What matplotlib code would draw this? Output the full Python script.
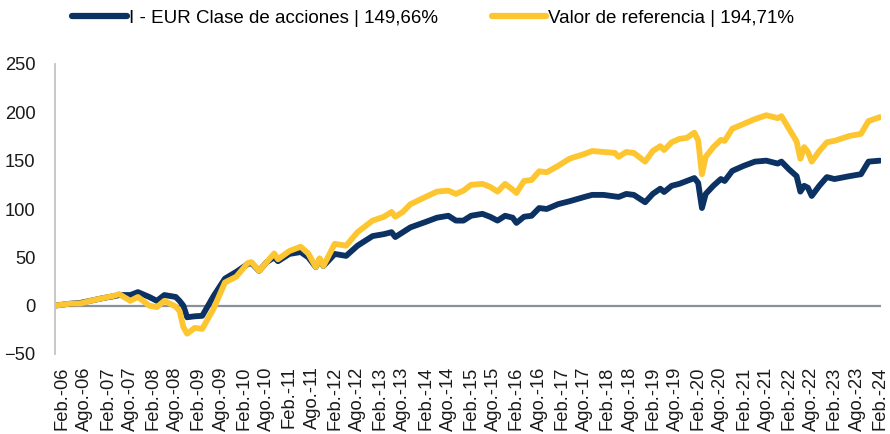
import matplotlib.pyplot as plt
from matplotlib.lines import Line2D

plt.rcParams['font.family'] = ['Liberation Sans', 'DejaVu Sans']

# months counted from Feb-2006
months = [-2, 2, 5, 8, 11, 14, 15, 18, 20, 23, 25, 27, 30, 31, 32, 33, 35, 37, 40, 43,
          46, 49, 50, 52, 54, 56, 57, 60, 63, 65, 67, 68, 69, 72, 75, 78, 82, 85, 87, 88,
          90, 92, 96, 99, 102, 104, 106, 108, 111, 113, 115, 117, 119, 120, 122, 124, 126, 128, 131, 134,
          138, 140, 143, 146, 147, 149, 151, 154, 156, 158, 159, 161, 163, 165, 167, 168, 169, 170, 172, 174,
          175, 177, 180, 183, 186, 189, 190, 192, 194, 195, 196, 197, 198, 200, 202, 204, 208, 211, 213, 216]

fund = [0, 2, 3, 5.5, 8, 10, 11, 11, 14, 9, 5, 11, 9, 5, 0, -12, -11, -10.5, 10, 28,
        35, 43, 44, 36, 45, 50, 46, 53.5, 55.5, 50, 40, 48, 41, 53.5, 51.5, 62, 72, 74, 76, 71,
        76, 81, 86.6, 91, 93, 88, 88, 93, 95, 92, 88, 93, 91, 85.6, 92, 93, 101, 100, 105, 108,
        112.5, 114.6, 114.6, 113, 112.5, 115.6, 114.6, 107, 115.6, 121, 117.6, 124, 126, 129, 132, 127, 101, 115.6, 124, 131,
        129, 139.4, 144.6, 149, 150, 147, 149, 141, 134, 118, 124, 122, 113.5, 124, 133, 131, 134, 136, 149, 150]

benchmark = [0, 2, 2.5, 5.5, 8, 10.5, 12, 5, 9, 0, -1.5, 5, -1, -5.5, -22, -29, -23, -24, -3, 24,
             30, 44, 45, 36, 45, 54, 48, 56.5, 61, 54, 40, 49, 41, 64, 62, 76, 88, 92, 97, 92,
             97, 105, 112.5, 118, 119, 115.6, 119, 125, 126, 123, 118, 126, 120, 116.6, 129, 130, 139, 138, 144.6, 152,
             157, 160, 159, 158, 154, 159, 158, 149, 160, 165, 161, 169, 172.5, 173.6, 179, 171, 136, 154, 164, 171.5,
             170.5, 183, 188, 193, 197, 194, 196, 183, 170, 152, 164, 159, 149, 160, 169, 170.5, 175.6, 177.7, 191, 195]

tick_months = list(range(0, 217, 6))
tick_labels = [f"{mon}.-{yy:02d}" for yy in range(6, 24) for mon in ("Feb", "Ago")] + ["Feb.-24"]

fund_label = "I - EUR Clase de acciones | 149,66%"
bench_label = "Valor de referencia | 194,71%"

navy = "#0b3263"
yellow = "#fdc630"

fig = plt.figure(figsize=(8.9, 4.34), dpi=100)
ax = fig.add_axes([55 / 890, 80 / 434, 826 / 890, 290 / 434])

ax.axhline(0, color="#8a9199", lw=1.6, zorder=1)
ax.plot(months, fund, color=navy, lw=4.2, solid_capstyle="round", solid_joinstyle="round", zorder=2)
ax.plot(months, benchmark, color=yellow, lw=4.2, solid_capstyle="round", solid_joinstyle="round", zorder=3)

ax.set_xlim(-1.9, 216.3)
ax.set_ylim(-50, 250)
ax.set_yticks(range(-50, 251, 50))
ax.set_xticks(tick_months)
ax.set_xticklabels(tick_labels, rotation=90)
ax.tick_params(axis="both", length=0, labelsize=13.2, colors="#1a1a1a")
ax.tick_params(axis="y", pad=14)
ax.tick_params(axis="x", pad=9)

for side in ("top", "right", "bottom"):
    ax.spines[side].set_visible(False)
ax.spines["left"].set_color("#c4c4c4")
ax.spines["left"].set_linewidth(1.3)

handles = [Line2D([], [], color=navy, lw=4.5, solid_capstyle="round"),
           Line2D([], [], color=yellow, lw=4.5, solid_capstyle="round")]
fig.legend(handles, [fund_label, bench_label], loc="center", bbox_to_anchor=(0.487, 0.958),
           ncol=2, frameon=False, fontsize=13.5, handlelength=2.9, handletextpad=0.1,
           columnspacing=2.9)

fig.savefig("out.png", dpi=100)
